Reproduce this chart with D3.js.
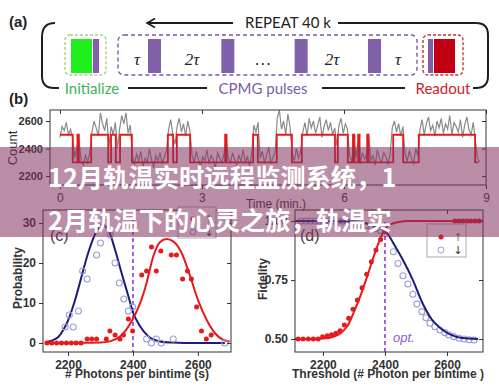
<!DOCTYPE html>
<html><head><meta charset="utf-8">
<script src="https://cdn.jsdelivr.net/npm/d3@7/dist/d3.min.js"></script>
<style>body{margin:0;background:#fff;}svg{display:block;}</style>
</head><body>
<svg id="chart" width="499" height="390"></svg>
<script>
// ---------------- DATA ----------------
// panel (a) schematic labels
const pulseGaps = ["τ", "2τ", "…", "2τ", "τ"];
const stageLabels = ["Initialize", "CPMG pulses", "Readout"];
const repeatLabel = "REPEAT 40 k";

// panel (b): photon count trace (min.)
const bTicksX = [0, 3, 6, 9];
const bTicksY = [2200, 2400, 2600];
const timeStep = 0.045;
const grayCounts = [
  2480,2560,2530,2590,2500,2540,2470,
  2330,2420,2450,2310,2280,2350,2300,2370,
  2520,2600,2550,2490,2660,2580,2530,2620,
  2410,
  2560,2500,2590,
  2400,
  2540,2640,2580,2660,2510,2570,
  2340,2290,2360,2310,2380,2270,2330,2300,2400,2320,2260,2350,2310,2370,2290,2340,2380,
  2540,2610,2500,
  2430,
  2560,2620,2520,2580,2490,2600,2530,
  2350,2300,2380,2320,2270,2340,2310,2390,2290,2350,2320,2260,2370,2330,2300,2360,2480,2340,2290,2370,2320,2280,2350,2310,2390,2300,2340,2270,2360,
  2570,2520,2590,
  2330,2380,2300,2350,2410,2290,2340,2370,
  2620,2680,2540,2600,2500,2650,2560,
  2360,2310,2400,2330,2380,
  2520,2590,2490,2620,2550,2600,2510,2570,2630,2480,2560,2610,2530,2590,2500,2550,
  2420,
  2570,2620,2510,2580,2540,
  2350,2300,2470,2330,2460,2290,2370,2320,2360,2480,2310,2350,2280,2390,2330,2300,2370,2340,2290,2360,
  2550,2600,2520,2580,2490,2560,
  2360,2310,2380,2330,2290,2400,2350,
  2540,2610,2500,2580,2630,2530,2570,2490,2600,2550,2620,2510,2580,2540,2640,2500,2590,2560,2520,2610,2480,2570,2630,2540,2500,2590,2460,
  2330,2300
];
const levelTimes  = [0,0.27,0.37,0.40,0.66,1.02,1.08,1.18,1.27,1.52,2.28,2.39,2.47,2.75,3.49,3.52,4.08,4.18,4.58,4.90,5.11,5.81,5.87,6.08,6.19,6.22,6.30,6.33,6.49,6.52,7.04,7.25,7.58,8.77,8.83];
const levelCounts = [2500,2300,2500,2300,2500,2300,2500,2300,2500,2300,2500,2300,2500,2300,2500,2300,2500,2300,2500,2300,2500,2300,2500,2300,2500,2300,2500,2300,2500,2300,2500,2300,2500,2300,2300];

// panel (c): histograms
const cTicksX = [2200, 2400, 2600];
const cTicksY = [0, 10, 20, 30];
const cBlueFitX = [2130,2150,2170,2185,2201,2222,2242,2262,2283,2304,2324,2345,2365,2386,2401,2422,2447,2483,2520,2560,2620,2683];
const cBlueFitY = [0.2,0.6,1.5,3.2,5.8,10.8,16.7,22.5,27.1,29.6,28.3,23.3,17.5,11.7,7.5,4.2,1.7,0.4,0.1,0,0,0];
const cRedFitX = [2130,2200,2260,2300,2329,2360,2386,2401,2422,2442,2462,2483,2504,2524,2550,2575,2601,2627,2652,2678,2698];
const cRedFitY = [0,0,0.05,0.1,0.4,1.6,4.1,6.2,9.9,15,21.5,25.2,26,25.4,22.5,17,10.6,5.8,2.5,0.8,0.4];
const cRedDotsX = [2135,2150,2165,2180,2195,2210,2225,2240,2259,2273,2288,2318,2329,2345,2360,2371,2386,2399,2427,2442,2457,2472,2486,2518,2534,2553,2568,2580,2596,2611,2626,2641];
const cRedDotsY = [0,0,0,0,0,0,0,0,1,1,1,1,3,2,1,2,6,3,17,18,24,18,23,22,22,16,18,16,9,3,1,2];
const cBlueDotsX = [2191,2204,2216,2232,2245,2259,2288,2300,2315,2330,2345,2358,2372,2386,2399,2442,2457,2472,2487,2524,2683];
const cBlueDotsY = [4,7,4,8,18,16,22,25,30,27,20,15,11,8,9,1,0,1,0,1,0];
const cThreshold = 2400;

// panel (d): fidelity vs threshold
const dTicksX = [2200, 2400, 2600];
const dTicksY = [0.50, 0.75, 1.00];
const dRedFitX = [2110,2200,2240,2260,2280,2300,2320,2340,2360,2380,2395,2410,2440,2480,2716];
const dRedFitY = [0.5,0.502,0.513,0.528,0.557,0.615,0.68,0.755,0.835,0.91,0.955,0.98,0.995,1.0,1.0];
const dBlueFitX = [2110,2300,2340,2370,2395,2406,2430,2458,2490,2520,2550,2580,2610,2650,2700];
const dBlueFitY = [1.0,0.998,0.99,0.978,0.962,0.95,0.9,0.835,0.75,0.655,0.585,0.545,0.52,0.504,0.5];
const dRedDotsX = [2120,2136,2153,2169,2185,2199,2214,2228,2242,2255,2269,2283,2297,2311,2326,2341,2356,2371,2386,2400,2625,2638,2651,2664,2677,2690,2703];
const dRedDotsY = [0.5,0.5,0.5,0.5,0.5,0.51,0.514,0.518,0.524,0.535,0.559,0.588,0.626,0.665,0.717,0.775,0.828,0.877,0.922,0.955,1,1,1,1,1,1,1];
const dBlueDotsX = [2130,2145,2160,2175,2190,2205,2220,2235,2250,2265,2280,2295,2310,2325,2340,2355,2370,2385,2427,2442,2458,2474,2490,2503,2519,2532,2545,2561,2577,2593,2606,2622,2639,2655,2671,2687];
const dBlueDotsY = [1,1,1,1,1,1,1,1,1,1,0.995,0.99,0.988,0.985,0.98,0.975,0.968,0.96,0.87,0.82,0.768,0.733,0.69,0.648,0.616,0.59,0.567,0.552,0.538,0.527,0.517,0.51,0.503,0.5,0.497,0.496];
const dThreshold = 2400;

const bannerLines = ["12月轨温实时远程监测系统，1", "2月轨温下的心灵之旅，轨温实"];

// ---------------- DRAW ----------------
const svg = d3.select("#chart");
const AX = "Liberation Sans, Arial, sans-serif";
const RED = "#e8191c", NAVY = "#1c1c78", LAV = "#9d9dd6", DASH = "#8a2be2";
const fmtInt = d3.format("d");

// ===== panel (a) =====
const a = svg.append("g");
a.append("text").attr("x",9).attr("y",27).attr("font-family",AX).attr("font-weight","bold").attr("font-size",15).attr("fill","#222").text("(a)");
const br = a.append("g").attr("fill","none").attr("stroke","#1e1e1e").attr("stroke-width",2);
br.append("path").attr("d","M42,37 Q42,23 55,23");
br.append("path").attr("d","M147,23 L233,23");
br.append("path").attr("d","M155,18.5 L147,23 L155,27.5").attr("stroke-width",1.6);
br.append("path").attr("d","M338,23 L476,23 Q488,23 488,35 L488,76 Q488,88 476,88 L473,88");
br.append("path").attr("d","M42,37 L42,76 Q42,88 54,88 L59,88");
br.append("path").attr("d","M128,88 L207,88");
br.append("path").attr("d","M322,88 L405,88");
a.append("text").attr("x",288).attr("y",28).attr("text-anchor","middle").attr("font-family","Lato, sans-serif").attr("font-size",15).attr("fill","#222").text(repeatLabel);

// dashed boxes
a.append("rect").attr("x",65).attr("y",35).attr("width",41).attr("height",40).attr("rx",5).attr("fill","none").attr("stroke","#b3c98a").attr("stroke-width",1.4).attr("stroke-dasharray","3,2");
a.append("rect").attr("x",118).attr("y",35).attr("width",299).attr("height",40).attr("rx",6).attr("fill","none").attr("stroke","#7a58a8").attr("stroke-width",1.4).attr("stroke-dasharray","4,3");
a.append("rect").attr("x",423).attr("y",35).attr("width",40).attr("height",40).attr("rx",5).attr("fill","none").attr("stroke","#cc3030").attr("stroke-width",1.4).attr("stroke-dasharray","3,2");
a.append("rect").attr("x",71).attr("y",39).attr("width",21).attr("height",34).attr("fill","#1fef1f");
a.append("rect").attr("x",93).attr("y",39).attr("width",6).attr("height",34).attr("fill","#8060a8");
a.append("rect").attr("x",428).attr("y",39).attr("width",5).attr("height",34).attr("fill","#8060a8");
a.append("rect").attr("x",434).attr("y",39).attr("width",21).attr("height",34).attr("fill","#c00012");
const pulseX = d3.scalePoint().domain([0,1,2,3]).range([148,368]);
a.selectAll("rect.pulse").data([0,1,2,3]).join("rect").attr("class","pulse")
  .attr("x",d=>pulseX(d)).attr("y",39).attr("width",13).attr("height",34).attr("fill","#8060a8");
const gapX = [137,192,263,332,398];
a.selectAll("text.gap").data(pulseGaps).join("text").attr("class","gap")
  .attr("x",(d,i)=>gapX[i]).attr("y",65).attr("text-anchor","middle")
  .attr("font-family","Liberation Serif, serif").attr("font-style","italic").attr("font-size",17).attr("fill","#222").text(d=>d);
const stageX = [92,263,443], stageCol = ["#3cb55a","#7b5ca8","#c8262a"];
a.selectAll("text.stage").data(stageLabels).join("text").attr("class","stage")
  .attr("x",(d,i)=>stageX[i]).attr("y",94).attr("text-anchor","middle")
  .attr("font-family","Lato, sans-serif").attr("font-size",15).attr("fill",(d,i)=>stageCol[i]).text(d=>d);

// ===== helpers =====
function styleAxis(g, bold, size){
  g.select(".domain").remove();
  g.selectAll("line").attr("stroke","#333");
  g.selectAll("text").attr("font-family",AX).attr("font-size",size).attr("font-weight",bold?"bold":"normal").attr("fill","#333");
}
function frame(g,x0,y0,x1,y1){
  g.append("rect").attr("x",x0).attr("y",y0).attr("width",x1-x0).attr("height",y1-y0).attr("fill","none").attr("stroke","#333").attr("stroke-width",1);
}

// ===== panel (b) =====
const b = svg.append("g");
b.append("text").attr("x",9).attr("y",104).attr("font-family",AX).attr("font-weight","bold").attr("font-size",15).attr("fill","#222").text("(b)");
const xb = d3.scaleLinear().domain([-0.21, 9.0]).range([50,486]);
const yb = d3.scaleLinear().domain([2135,2680]).range([185,110]);
b.append("path").datum(grayCounts).attr("fill","none").attr("stroke","#8a8a8a").attr("stroke-width",1.2)
  .attr("d", d3.line().x((d,i)=>xb(i*timeStep)).y(d=>yb(d)));
b.append("path").datum(levelTimes.map((t,i)=>[t,levelCounts[i]])).attr("fill","none").attr("stroke",RED).attr("stroke-width",1.8)
  .attr("d", d3.line().x(d=>xb(d[0])).y(d=>yb(d[1])).curve(d3.curveStepAfter));
frame(b,50,110,486,185);
let g;
g = b.append("g").attr("transform","translate(0,185)").call(d3.axisBottom(xb).tickValues(bTicksX).tickSize(4).tickPadding(4).tickFormat(fmtInt)); styleAxis(g,false,12);
g = b.append("g").attr("transform","translate(0,110)").call(d3.axisBottom(xb).tickValues(bTicksX).tickSize(4).tickFormat("")); styleAxis(g,false,12);
g = b.append("g").attr("transform","translate(50,0)").call(d3.axisLeft(yb).tickValues(bTicksY).tickSize(4).tickPadding(3).tickFormat(fmtInt)); styleAxis(g,true,11);
g = b.append("g").attr("transform","translate(486,0)").call(d3.axisLeft(yb).tickValues(bTicksY).tickSize(4).tickFormat("")); styleAxis(g,true,11);
b.append("text").attr("transform","translate(17,148) rotate(-90)").attr("text-anchor","middle").attr("font-family",AX).attr("font-size",13).attr("fill","#333").text("Count");
b.append("text").attr("x",276).attr("y",208).attr("text-anchor","middle").attr("font-family",AX).attr("font-size",12).attr("fill","#333").text("Time (min.)");

// ===== panel (c) =====
const c = svg.append("g");
const xc = d3.scaleLinear().domain([2123,2702]).range([43,231]);
const yc = d3.scaleLinear().domain([-2.25,33.25]).range([352,210]);
c.append("line").attr("x1",xc(cThreshold)).attr("x2",xc(cThreshold)).attr("y1",210).attr("y2",352).attr("stroke",DASH).attr("stroke-width",1.5).attr("stroke-dasharray","4,3");
const lineC = d3.line().x(d=>xc(d[0])).y(d=>yc(d[1])).curve(d3.curveMonotoneX);
c.append("path").datum(cBlueFitX.map((x,i)=>[x,cBlueFitY[i]])).attr("fill","none").attr("stroke",NAVY).attr("stroke-width",2).attr("d",lineC);
c.append("path").datum(cRedFitX.map((x,i)=>[x,cRedFitY[i]])).attr("fill","none").attr("stroke",RED).attr("stroke-width",2).attr("d",lineC);
c.selectAll("circle.bd").data(cBlueDotsX.map((x,i)=>[x,cBlueDotsY[i]])).join("circle").attr("class","bd")
  .attr("cx",d=>xc(d[0])).attr("cy",d=>yc(d[1])).attr("r",3).attr("fill","none").attr("stroke",LAV).attr("stroke-width",1.1);
c.selectAll("circle.rd").data(cRedDotsX.map((x,i)=>[x,cRedDotsY[i]])).join("circle").attr("class","rd")
  .attr("cx",d=>xc(d[0])).attr("cy",d=>yc(d[1])).attr("r",2.5).attr("fill",RED);
frame(c,43,210,231,352);
g = c.append("g").attr("transform","translate(0,352)").call(d3.axisBottom(xc).tickValues(cTicksX).tickSize(4).tickPadding(4).tickFormat(fmtInt)); styleAxis(g,true,12);
g = c.append("g").attr("transform","translate(0,210)").call(d3.axisBottom(xc).tickValues(cTicksX).tickSize(4).tickFormat("")); styleAxis(g,true,12);
g = c.append("g").attr("transform","translate(43,0)").call(d3.axisLeft(yc).tickValues(cTicksY).tickSize(4).tickPadding(3).tickFormat(fmtInt)); styleAxis(g,true,12);
g = c.append("g").attr("transform","translate(231,0)").call(d3.axisLeft(yc).tickValues(cTicksY).tickSize(4).tickFormat("")); styleAxis(g,true,12);
c.append("text").attr("x",50).attr("y",241).attr("font-family",AX).attr("font-size",16).attr("fill","#444").text("(c)");
c.append("text").attr("transform","translate(22,278) rotate(-90)").attr("text-anchor","middle").attr("font-family",AX).attr("font-weight","bold").attr("font-size",12).attr("fill","#333").text("Probability");
c.append("text").attr("x",137).attr("y",378).attr("text-anchor","middle").attr("font-family",AX).attr("font-weight","bold").attr("font-size",12).attr("fill","#333").text("# Photons per bintime (s)");
// legend c
c.append("rect").attr("x",178).attr("y",207).attr("width",38).attr("height",31).attr("fill","#fff").attr("stroke","#aaa");
c.append("circle").attr("cx",193).attr("cy",219).attr("r",2.5).attr("fill",RED);
c.append("circle").attr("cx",193).attr("cy",232).attr("r",3).attr("fill","none").attr("stroke",LAV);
c.append("text").attr("x",209).attr("y",223).attr("text-anchor","middle").attr("font-family","DejaVu Sans").attr("font-size",11).attr("fill","#777").text("↑");
c.append("text").attr("x",209).attr("y",236).attr("text-anchor","middle").attr("font-family","DejaVu Sans").attr("font-size",11).attr("fill","#333").text("↓");

// ===== panel (d) =====
const d_ = svg.append("g");
const xd = d3.scaleLinear().domain([2110,2716]).range([295,483]);
const yd = d3.scaleLinear().domain([0.445,1.047]).range([352,210]);
d_.append("line").attr("x1",xd(dThreshold)).attr("x2",xd(dThreshold)).attr("y1",222).attr("y2",352).attr("stroke",DASH).attr("stroke-width",1.5).attr("stroke-dasharray","4,3");
const lineD = d3.line().x(d=>xd(d[0])).y(d=>yd(d[1])).curve(d3.curveMonotoneX);
d_.selectAll("circle.bd").data(dBlueDotsX.map((x,i)=>[x,dBlueDotsY[i]])).join("circle").attr("class","bd")
  .attr("cx",d=>xd(d[0])).attr("cy",d=>yd(d[1])).attr("r",3).attr("fill","none").attr("stroke",LAV).attr("stroke-width",1.1);
d_.append("path").datum(dBlueFitX.map((x,i)=>[x,dBlueFitY[i]])).attr("fill","none").attr("stroke",NAVY).attr("stroke-width",2).attr("d",lineD);
d_.append("path").datum(dRedFitX.map((x,i)=>[x,dRedFitY[i]])).attr("fill","none").attr("stroke",RED).attr("stroke-width",2).attr("d",lineD);
d_.selectAll("circle.rd").data(dRedDotsX.map((x,i)=>[x,dRedDotsY[i]])).join("circle").attr("class","rd")
  .attr("cx",d=>xd(d[0])).attr("cy",d=>yd(d[1])).attr("r",2.5).attr("fill",RED);
frame(d_,295,210,483,352);
g = d_.append("g").attr("transform","translate(0,352)").call(d3.axisBottom(xd).tickValues(dTicksX).tickSize(4).tickPadding(4).tickFormat(fmtInt)); styleAxis(g,true,12);
g = d_.append("g").attr("transform","translate(0,210)").call(d3.axisBottom(xd).tickValues(dTicksX).tickSize(4).tickFormat("")); styleAxis(g,true,12);
g = d_.append("g").attr("transform","translate(295,0)").call(d3.axisLeft(yd).tickValues(dTicksY).tickSize(4).tickPadding(3).tickFormat(d3.format(".2f"))); styleAxis(g,true,12);
g = d_.append("g").attr("transform","translate(483,0)").call(d3.axisLeft(yd).tickValues(dTicksY).tickSize(4).tickFormat("")); styleAxis(g,true,12);
d_.append("text").attr("x",300).attr("y",241).attr("font-family",AX).attr("font-size",16).attr("fill","#444").text("(d)");
d_.append("text").attr("x",393).attr("y",342).attr("font-family",AX).attr("font-style","italic").attr("font-size",13).attr("fill","#8a55e0").text("opt.");
d_.append("text").attr("transform","translate(267,279) rotate(-90)").attr("text-anchor","middle").attr("font-family",AX).attr("font-weight","bold").attr("font-size",12).attr("fill","#333").text("Fidelity");
d_.append("text").attr("x",388).attr("y",378).attr("text-anchor","middle").attr("font-family",AX).attr("font-weight","bold").attr("font-size",12).attr("fill","#333").text("Threshold (# Photon per bintime )");
d_.append("rect").attr("x",427).attr("y",224).attr("width",39).attr("height",33).attr("fill","#fff").attr("stroke","#aaa");
d_.append("circle").attr("cx",441).attr("cy",237).attr("r",2.5).attr("fill",RED);
d_.append("circle").attr("cx",441).attr("cy",250).attr("r",3).attr("fill","none").attr("stroke",LAV);
d_.append("text").attr("x",458).attr("y",241).attr("text-anchor","middle").attr("font-family","DejaVu Sans").attr("font-size",11).attr("fill","#777").text("↑");
d_.append("text").attr("x",458).attr("y",254).attr("text-anchor","middle").attr("font-family","DejaVu Sans").attr("font-size",11).attr("fill","#333").text("↓");

// ===== banner overlay =====
const ban = svg.append("g");
ban.append("rect").attr("x",0).attr("y",147).attr("width",499).attr("height",90).attr("fill","rgba(130,50,95,0.55)");
ban.selectAll("text").data(bannerLines).join("text")
  .attr("x",48).attr("y",(d,i)=>187+i*43)
  .attr("font-family","'Noto Sans CJK SC', sans-serif").attr("font-weight","bold").attr("font-size",25.3).attr("fill","#fff")
  .text(d=>d);
</script>
</body></html>
